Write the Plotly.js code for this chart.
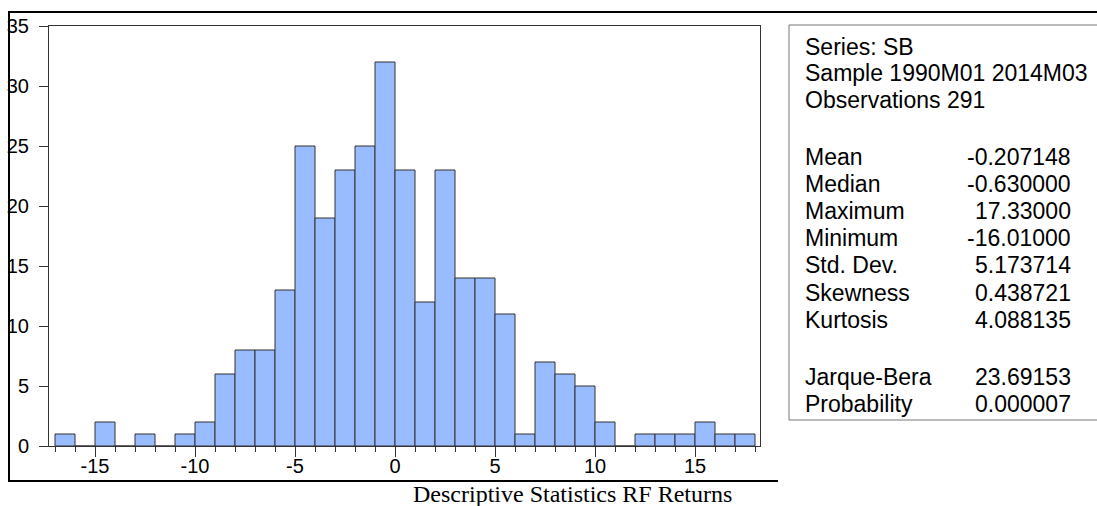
<!DOCTYPE html>
<html>
<head>
<meta charset="utf-8">
<script src="https://cdn.plot.ly/plotly-3.0.1.min.js"></script>
<style>
  html, body { margin: 0; padding: 0; background: #fff; }
  #chart { width: 1097px; height: 506px; }
</style>
</head>
<body>
<div id="chart"></div>
<script>
// Histogram of monthly returns: one bar per unit-wide bin, lower edges below
const binStarts = [-17, -16, -15, -14, -13, -12, -11, -10, -9, -8, -7, -6, -5, -4, -3, -2, -1,
                   0, 1, 2, 3, 4, 5, 6, 7, 8, 9, 10, 11, 12, 13, 14, 15, 16, 17];
const counts    = [1, 0, 2, 0, 1, 0, 1, 2, 6, 8, 8, 13, 25, 19, 23, 25, 32,
                   23, 12, 23, 14, 14, 11, 1, 7, 6, 5, 2, 0, 1, 1, 1, 2, 1, 1];

const xTickVals = [-15, -10, -5, 0, 5, 10, 15];
const xTickText = ['-15', '-10', '-5', '0', '5', '10', '15'];
const yTickVals = [0, 5, 10, 15, 20, 25, 30, 35];

// Summary statistics panel
const headerLines = ['Series: SB', 'Sample 1990M01 2014M03', 'Observations 291'];
const statNames   = ['Mean', 'Median', 'Maximum', 'Minimum', 'Std. Dev.', 'Skewness', 'Kurtosis'];
const statValues  = ['-0.207148', '-0.630000', '17.33000', '-16.01000', '5.173714', '0.438721', '4.088135'];
const testNames   = ['Jarque-Bera', 'Probability'];
const testValues  = ['23.69153', '0.000007'];

const caption = 'Descriptive Statistics RF Returns';

// Page geometry (pixels) of the plotting area
const W = 1097, H = 506;
const PL = 49, PR = 760, PT = 26, PB = 446;
const px = x => (x - PL) / (PR - PL);
const py = y => (PB - y) / (PB - PT);

const SANS = 'Liberation Sans, Arial, sans-serif';
const SERIF = 'Liberation Serif, Times New Roman, serif';

const shapes = [
  // outer frame lines
  { type: 'line', xref: 'paper', yref: 'paper', x0: px(9), x1: px(1110), y0: py(12), y1: py(12),
    line: { color: '#000', width: 2 } },
  { type: 'line', xref: 'paper', yref: 'paper', x0: px(9), x1: px(9), y0: py(11), y1: py(481),
    line: { color: '#000', width: 2 } },
  { type: 'line', xref: 'paper', yref: 'paper', x0: px(8), x1: px(778), y0: py(481), y1: py(481),
    line: { color: '#000', width: 2 } },
  // statistics box
  { type: 'rect', xref: 'paper', yref: 'paper', x0: px(789), x1: px(1120), y0: py(25), y1: py(420),
    line: { color: '#777', width: 1 }, fillcolor: 'rgba(0,0,0,0)' }
];

const annotations = [];
const addText = (text, x, y, anchor, font) => annotations.push({
  text: text, xref: 'paper', yref: 'paper', x: px(x), y: py(y),
  xanchor: anchor, yanchor: 'middle', showarrow: false,
  font: font || { family: SANS, size: 23, color: '#000' }
});

const headerY = [47, 73, 100];
headerLines.forEach((t, i) => addText(t, 803, headerY[i], 'left'));
const statY = [157, 184, 211, 238, 265, 293, 320];
statNames.forEach((t, i) => {
  addText(t, 803, statY[i], 'left');
  addText(statValues[i], 1073, statY[i], 'right');
});
const testY = [377, 404];
testNames.forEach((t, i) => {
  addText(t, 803, testY[i], 'left');
  addText(testValues[i], 1073, testY[i], 'right');
});
addText(caption, 572, 494, 'center', { family: SERIF, size: 24, color: '#000' });

const trace = {
  type: 'bar',
  x: binStarts,
  y: counts,
  width: 1,
  offset: 0,
  marker: { color: '#99bbff', line: { color: '#333', width: 1 } },
  hoverinfo: 'x+y'
};

const layout = {
  width: W, height: H,
  margin: { l: PL, r: W - PR, t: PT, b: H - PB, pad: 0 },
  paper_bgcolor: '#fff',
  plot_bgcolor: '#fff',
  showlegend: false,
  bargap: 0,
  xaxis: {
    range: [-17.3, 18.25],
    tickmode: 'array', tickvals: xTickVals, ticktext: xTickText,
    ticks: 'outside', ticklen: 10, tickwidth: 1, tickcolor: '#333',
    minor: { dtick: 1, tick0: 0, ticks: 'outside', ticklen: 5, tickwidth: 1, tickcolor: '#333' },
    showline: true, linecolor: '#333', linewidth: 1, mirror: true,
    showgrid: false, zeroline: false,
    tickfont: { family: SANS, size: 20, color: '#000' },
    ticklabelstandoff: -8
  },
  yaxis: {
    range: [0, 35],
    tickmode: 'array', tickvals: yTickVals,
    ticks: 'outside', ticklen: 9, tickwidth: 1, tickcolor: '#333',
    showline: true, linecolor: '#333', linewidth: 1, mirror: true,
    showgrid: false, zeroline: false,
    tickfont: { family: SANS, size: 20, color: '#000' },
    ticklabelstandoff: 6
  },
  shapes: shapes,
  annotations: annotations
};

Plotly.newPlot('chart', [trace], layout, { displayModeBar: false, staticPlot: true });
</script>
</body>
</html>
